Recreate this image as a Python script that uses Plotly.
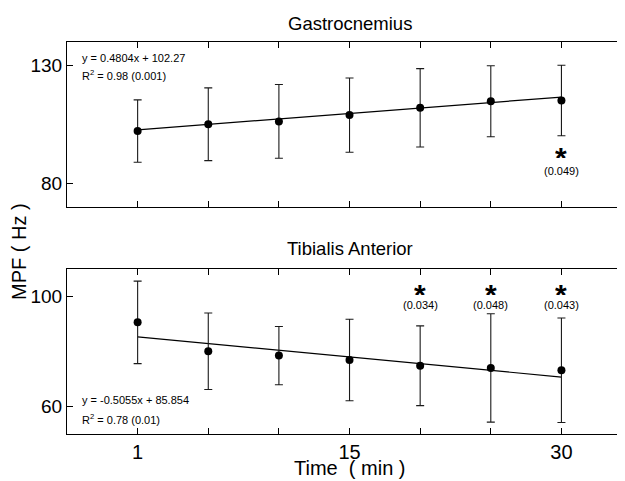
import plotly.graph_objects as go
from plotly.subplots import make_subplots

# ---- data ----
times_min = [1, 5, 10, 15, 20, 25, 30]
positions = [1, 2, 3, 4, 5, 6, 7]
label_pos = [1, 4, 7]
label_txt = ["1", "15", "30"]

gas_mean = [102.2, 105.1, 106.3, 109.0, 112.1, 114.9, 115.2]
gas_sd = [13.3, 15.5, 15.7, 15.8, 16.7, 15.1, 15.0]
gas_fit_x = [1, 7]
gas_fit_y = [102.75, 116.68]
gas_sig_pos = [7]
gas_sig_p = ["(0.049)"]

ta_mean = [90.6, 80.1, 78.5, 76.9, 74.8, 74.0, 73.2]
ta_sd = [15.0, 13.9, 10.6, 14.8, 14.5, 19.7, 19.0]
ta_fit_x = [1, 7]
ta_fit_y = [85.35, 70.69]
ta_sig_pos = [5, 6, 7]
ta_sig_p = ["(0.034)", "(0.048)", "(0.043)"]

FONT = "Liberation Sans, Arial, sans-serif"
OFF = 8                      # page body margin in the browser
W, H = 625 - OFF, 481 - OFF  # figure sits at (8, 8) in the window


def py(y_ref):
    """reference pixel row -> paper fraction of this figure"""
    return 1 - (y_ref - OFF) / H


def px(x_ref):
    """reference pixel column -> paper fraction of the plot area"""
    return (x_ref - 67) / 558


fig = make_subplots(rows=2, cols=1, shared_xaxes=False)


def add_panel(row, mean, sd, fx, fy):
    fig.add_trace(go.Scatter(x=fx, y=fy, mode="lines",
                             line=dict(color="black", width=1.2),
                             showlegend=False, hoverinfo="skip"), row=row, col=1)
    fig.add_trace(go.Scatter(x=positions, y=mean, mode="markers",
                             marker=dict(color="black", size=8),
                             error_y=dict(type="data", array=sd, visible=True,
                                          color="#1a1a1a", thickness=1.1, width=4),
                             showlegend=False), row=row, col=1)


add_panel(1, gas_mean, gas_sd, gas_fit_x, gas_fit_y)
add_panel(2, ta_mean, ta_sd, ta_fit_x, ta_fit_y)

xcommon = dict(range=[0, 7.9], tickvals=label_pos, ticktext=label_txt,
               ticks="inside", ticklen=6, tickcolor="black", showline=True,
               linecolor="black", linewidth=1, mirror="ticks", showgrid=False,
               zeroline=False, tickfont=dict(family=FONT, size=20, color="black"),
               minor=dict(tickvals=positions, ticks="inside", ticklen=6,
                          tickcolor="black", showgrid=False))
fig.update_xaxes(**xcommon)
fig.update_xaxes(showticklabels=False, row=1, col=1)

ycommon = dict(ticks="inside", ticklen=6, tickcolor="black", showline=True,
               linecolor="black", linewidth=1, mirror=False, showgrid=False,
               zeroline=False, tickfont=dict(family=FONT, size=19, color="black"))
fig.update_yaxes(range=[70, 140], tickvals=[80, 130], row=1, col=1, **ycommon)
fig.update_yaxes(range=[50, 110], tickvals=[60, 100], row=2, col=1, **ycommon)

fig.update_layout(
    width=W, height=H,
    margin=dict(l=67 - OFF, r=0, t=0, b=0, autoexpand=False),
    paper_bgcolor="white", plot_bgcolor="white",
    xaxis=dict(domain=[0, 1]), xaxis2=dict(domain=[0, 1]),
    yaxis=dict(domain=[py(206.7), py(42.3)]),
    yaxis2=dict(domain=[py(434), py(269)]),
    font=dict(family=FONT, color="black"),
)

# right-side tick stubs (the axis box runs past the image edge)
for xr, yr, vals in (("x", "y", [80, 130]), ("x2", "y2", [60, 100])):
    for v in vals:
        fig.add_shape(type="line", xref=xr, yref=yr, x0=7.86, x1=7.9, y0=v, y1=v,
                      line=dict(color="black", width=1))

ann = []
# titles and axis titles
ann.append(dict(text="Gastrocnemius", xref="x", yref="paper", x=4, y=py(23),
                font=dict(size=18.5)))
ann.append(dict(text="Tibialis Anterior", xref="x2", yref="paper", x=4, y=py(248),
                font=dict(size=18.5)))
ann.append(dict(text="Time  ( min )", xref="x2", yref="paper", x=4, y=py(468),
                font=dict(size=20)))
ann.append(dict(text="MPF ( Hz )", xref="paper", yref="paper", x=px(19),
                y=py(251), textangle=-90, font=dict(size=20)))
# regression equations
ann.append(dict(text="y = 0.4804x + 102.27", xref="x", yref="y", x=0.18, y=133.3,
                xanchor="left", font=dict(size=11)))
ann.append(dict(text="R<sup>2</sup> = 0.98 (0.001)", xref="x", yref="y", x=0.18, y=126.0,
                xanchor="left", font=dict(size=11)))
ann.append(dict(text="y = -0.5055x + 85.854", xref="x2", yref="y2", x=0.18, y=62.3,
                xanchor="left", font=dict(size=11)))
ann.append(dict(text="R<sup>2</sup> = 0.78 (0.01)", xref="x2", yref="y2", x=0.18, y=55.3,
                xanchor="left", font=dict(size=11)))
# significance markers (compact box so the asterisk box does not cover the p-value)
star = dict(text="<b>*</b>", height=17, valign="top", yshift=2.5, font=dict(size=30))
for p, txt in zip(gas_sig_pos, gas_sig_p):
    ann.append(dict(star, xref="x", yref="y", x=p, y=93.35))
    ann.append(dict(text=txt, xref="x", yref="y", x=p, y=85.3, font=dict(size=11)))
for p, txt in zip(ta_sig_pos, ta_sig_p):
    ann.append(dict(star, xref="x2", yref="y2", x=p, y=102.8))
    ann.append(dict(text=txt, xref="x2", yref="y2", x=p, y=97.0, font=dict(size=11)))

for a in ann:
    a.setdefault("showarrow", False)
    a.setdefault("xanchor", "center")
    a.setdefault("yanchor", "middle")
    a["font"] = dict(family=FONT, color="black", **a["font"])
fig.update_layout(annotations=ann)

fig.write_html("out.html")
